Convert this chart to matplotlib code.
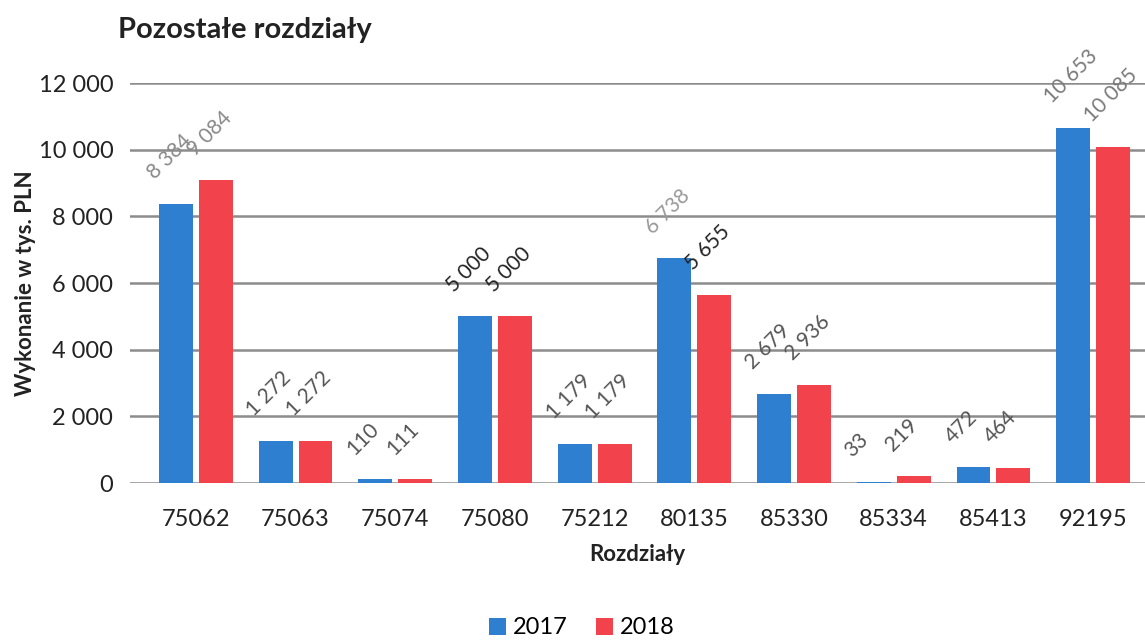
import matplotlib.pyplot as plt
import numpy as np

# dane
rozdzialy = ['75062', '75063', '75074', '75080', '75212',
             '80135', '85330', '85334', '85413', '92195']
w2017 = [8384, 1272, 110, 5000, 1179, 6738, 2679, 33, 472, 10653]
w2018 = [9084, 1272, 111, 5000, 1179, 5655, 2936, 219, 464, 10085]

# kolory etykiet (w oryginale sa rozne odcienie szarosci)
kol2017 = ['#8a8a8a', '#555555', '#555555', '#222222', '#555555',
           '#9a9a9a', '#555555', '#555555', '#555555', '#7a7a7a']
kol2018 = ['#8a8a8a', '#555555', '#555555', '#222222', '#555555',
           '#222222', '#555555', '#555555', '#555555', '#7a7a7a']

plt.rcParams['font.family'] = ['Lato', 'DejaVu Sans']

niebieski = '#2F7FD1'
czerwony = '#F2424B'

def fmt(v):
    return '{:,}'.format(v).replace(',', ' ')

fig = plt.figure(figsize=(11.45, 6.4), dpi=100)
ax = fig.add_axes([130 / 1145, 1 - 483 / 640, 1015 / 1145, 400 / 640])

x = np.arange(len(rozdzialy))
b1 = ax.bar(x - 0.2, w2017, width=0.34, color=niebieski, label='2017', zorder=3)
b2 = ax.bar(x + 0.2, w2018, width=0.34, color=czerwony, label='2018', zorder=3)

# etykiety nad slupkami, obrocone o 45 stopni
for bars, vals, kols in [(b1, w2017, kol2017), (b2, w2018, kol2018)]:
    for r, v, k in zip(bars, vals, kols):
        ax.annotate(fmt(v), (r.get_x(), r.get_height()),
                    xytext=(-1, 15), textcoords='offset points',
                    rotation=45, rotation_mode='anchor',
                    ha='left', va='bottom', fontsize=15, color=k, zorder=4)

ax.set_xlim(-0.66, 9.52)
ax.set_ylim(0, 12000)
ax.set_yticks(range(0, 12001, 2000))
ax.set_yticklabels([fmt(t) for t in range(0, 12001, 2000)], fontsize=17, color='#222222')
ax.set_xticks(x)
ax.set_xticklabels(rozdzialy, fontsize=17, color='#222222')
ax.tick_params(axis='both', length=0)
ax.tick_params(axis='y', pad=12)
ax.tick_params(axis='x', pad=19)

ax.grid(axis='y', color='#8c8c8c', linewidth=1.8, zorder=0)
for s in ax.spines.values():
    s.set_visible(False)

ax.set_xlabel('Rozdziały', fontsize=16, fontweight='bold', color='#222222', labelpad=10)
ax.set_ylabel('Wykonanie w tys. PLN', fontsize=16, fontweight='bold', color='#222222')
ax.yaxis.set_label_coords(-0.093, 0.5)

fig.text(118 / 1145, 1 - 30 / 640, 'Pozostałe rozdziały', fontsize=21,
         fontweight='bold', color='#222222', va='center', ha='left')

fig.legend(handles=[b1, b2], loc='center', bbox_to_anchor=(582 / 1145, 1 - 628 / 640),
           ncol=2, frameon=False, fontsize=17, handlelength=0.7, handleheight=0.7,
           handletextpad=0.3, columnspacing=1.2)

plt.savefig('out.png', dpi=100)
